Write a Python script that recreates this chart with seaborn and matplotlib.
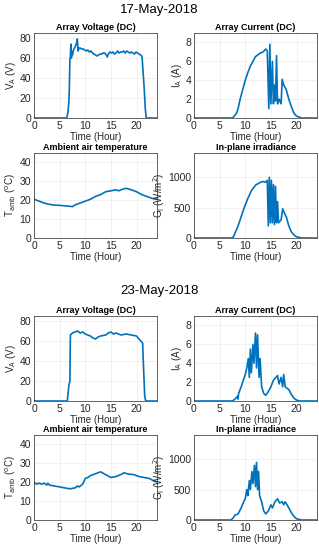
import matplotlib
matplotlib.use("Agg")
import matplotlib.pyplot as plt
import seaborn as sns
import pandas as pd

sns.set_theme(style="whitegrid")
plt.rcParams['font.family'] = ['Liberation Sans', 'DejaVu Sans']

BLUE = "#0072BD"

# ---------------- 17-May-2018 ----------------
v17_t = [0, 6.4, 6.6, 6.8, 6.9, 7.0, 7.1, 7.2, 7.3, 7.4, 7.5, 7.7, 7.9, 8.1, 8.3, 8.45, 8.6, 8.8, 9.0,
         9.3, 9.6, 9.9, 10.2, 10.5, 10.8, 11.1, 11.4, 11.7, 12.0, 12.3, 12.6, 12.9, 13.2, 13.5, 13.8,
         14.1, 14.3, 14.5, 14.8, 15.1, 15.4, 15.7, 16.0, 16.3, 16.6, 16.9, 17.2, 17.5, 17.8, 18.1, 18.4,
         18.7, 19.0, 19.3, 19.6, 19.9, 20.2, 20.5, 20.8, 21.0, 21.1, 21.3, 21.5, 21.7, 21.9, 24]
v17_v = [0, 0, 5, 15, 30, 58, 62, 74, 60, 66, 63, 68, 70, 72, 75, 79, 67, 70, 70,
         69, 69, 68, 67, 68, 66, 67, 65, 64, 63, 62, 63, 64, 64, 65, 65,
         63, 61, 64, 66, 65, 66, 64, 65, 67, 65, 66, 66, 67, 65, 67, 66,
         65, 66, 65, 64, 66, 65, 64, 63, 62, 60, 45, 30, 10, 0, 0]

i17_t = [0, 7.5, 8.0, 8.3, 8.6, 9.0, 9.5, 10.0, 10.5, 11.0, 11.5, 12.0, 12.5, 13.0, 13.5, 14.0, 14.3,
         14.6, 14.8, 15.0, 15.3, 15.5, 15.7, 15.9, 16.1, 16.3, 16.6, 17.0, 17.2, 17.5, 18.0, 18.5, 19.0,
         19.5, 20.0, 21.0, 24]
i17_v = [0, 0, 0.3, 0.5, 1.0, 2.0, 3.0, 4.0, 4.8, 5.5, 6.0, 6.5, 6.7, 6.9, 7.0, 7.3, 7.1,
         1.0, 7.8, 1.5, 6.0, 1.5, 3.5, 1.8, 6.6, 1.5, 2.0, 1.5, 4.1, 3.5, 3.0, 2.0, 1.2,
         0.5, 0.2, 0, 0]

t17_t = [0, 1, 2, 3, 4, 5, 6, 7, 7.5, 8, 9, 10, 11, 12, 13, 14, 15, 16, 16.5, 17.5, 18, 19, 20, 21, 22, 23, 24]
t17_v = [20.5, 19.5, 18.5, 17.8, 17.4, 17.3, 17.0, 16.8, 16.6, 17.5, 18.5, 19.5, 20.5, 22.0, 23.0, 24.5,
         25.0, 25.5, 25.0, 26.0, 26.3, 25.5, 24.5, 23.0, 22.0, 21.0, 20.5]

g17_t = [0, 7.3, 7.7, 8.0, 8.6, 9.2, 9.8, 10.5, 11.2, 12.0, 13.0, 13.5, 14.0, 14.3, 14.5, 14.7, 14.9,
         15.1, 15.3, 15.5, 15.7, 15.9, 16.1, 16.3, 16.5, 17.0, 17.3, 17.7, 18.0, 18.5, 19.0, 19.5, 20.0, 21.0, 24]
g17_v = [0, 0, 20, 80, 200, 350, 500, 650, 780, 870, 920, 930, 920, 950, 200, 1000, 250,
         950, 250, 880, 220, 850, 250, 600, 250, 300, 480, 400, 350, 200, 100, 50, 20, 0, 0]

# ---------------- 23-May-2018 ----------------
v23_t = [0, 6.5, 6.8, 7.0, 7.1, 7.5, 8.0, 8.5, 9.0, 9.5, 10.0, 10.5, 11.0, 11.5, 12.0, 12.5, 13.0,
         14.0, 14.5, 15.0, 15.5, 16.0, 17.0, 18.0, 19.0, 20.0, 20.5, 21.0, 21.2, 21.4, 21.6, 21.8, 24]
v23_v = [0, 0, 15, 20, 66, 68, 69, 70, 68, 69, 67, 66, 65, 63, 62, 64, 65,
         66, 68, 69, 67, 68, 66, 67, 66, 65, 62, 59, 58, 30, 5, 0, 0]

i23_t = [0, 7.5, 8.0, 8.5, 8.6, 8.7, 9.2, 9.5, 10.0, 10.3, 10.6, 10.8, 11.0, 11.2, 11.5, 11.7, 12.0,
         12.2, 12.4, 12.7, 12.9, 13.2, 13.6, 14.0, 14.4, 15.0, 15.5, 16.0, 16.3, 16.6, 17.0, 17.3, 17.5,
         17.8, 18.5, 19.0, 19.5, 20.0, 20.5, 24]
i23_v = [0, 0, 0.2, 0.5, 0.2, 0.8, 1.5, 2.0, 2.8, 3.5, 4.5, 2.5, 5.5, 3.0, 6.0, 4.0, 7.2,
         3.5, 7.0, 2.5, 4.5, 1.5, 0.8, 0.6, 0.9, 1.5, 2.2, 2.5, 2.7, 1.8, 2.5, 1.5, 2.8,
         1.5, 1.2, 0.7, 0.3, 0.1, 0, 0]

t23_t = [0, 0.5, 1, 1.5, 2, 2.5, 2.7, 3, 4, 5, 6, 7, 8, 8.5, 8.8, 9.5, 10, 10.5, 11, 12, 13, 14, 15,
         16, 17.3, 17.5, 18.5, 19.5, 20.5, 21.5, 22.5, 23.5, 24]
t23_v = [20.0, 19.0, 19.5, 19.0, 19.5, 18.5, 19.5, 18.5, 18.0, 17.5, 17.0, 16.5, 17.0, 18.0, 17.5, 19.0,
         22.0, 22.5, 23.5, 24.5, 25.5, 24.0, 22.5, 23.0, 24.5, 25.0, 24.3, 24.0, 23.0, 22.5, 22.0, 20.5, 20.2]

g23_t = [0, 7.2, 7.6, 8.0, 8.6, 9.2, 9.7, 10.0, 10.3, 10.5, 10.8, 11.0, 11.3, 11.5, 11.8, 12.0, 12.2,
         12.4, 12.6, 12.8, 13.2, 13.6, 14.0, 14.5, 15.0, 15.3, 15.8, 16.3, 16.7, 17.2, 17.5, 17.8, 18.5,
         19.0, 19.5, 20.0, 21.0, 24]
g23_v = [0, 0, 30, 80, 100, 200, 300, 350, 500, 400, 650, 500, 800, 600, 900, 550, 950,
         500, 800, 400, 300, 150, 100, 150, 250, 200, 300, 350, 280, 300, 250, 300, 200,
         120, 60, 20, 0, 0]

panels = [
    (v17_t, v17_v, "Array Voltage (DC)", r"V$_{\mathrm{A}}$ (V)", 85, [0, 20, 40, 60, 80]),
    (i17_t, i17_v, "Array Current (DC)", r"I$_{\mathrm{A}}$ (A)", 9, [0, 2, 4, 6, 8]),
    (t17_t, t17_v, "Ambient air temperature", r"T$_{\mathrm{amb}}$ ($^{\mathrm{o}}$C)", 45, [0, 10, 20, 30, 40]),
    (g17_t, g17_v, "In-plane irradiance", r"G$_{\mathrm{I}}$ (W/m$^{\mathrm{2}}$)", 1400, [0, 500, 1000]),
    (v23_t, v23_v, "Array Voltage (DC)", r"V$_{\mathrm{A}}$ (V)", 85, [0, 20, 40, 60, 80]),
    (i23_t, i23_v, "Array Current (DC)", r"I$_{\mathrm{A}}$ (A)", 9, [0, 2, 4, 6, 8]),
    (t23_t, t23_v, "Ambient air temperature", r"T$_{\mathrm{amb}}$ ($^{\mathrm{o}}$C)", 45, [0, 10, 20, 30, 40]),
    (g23_t, g23_v, "In-plane irradiance", r"G$_{\mathrm{I}}$ (W/m$^{\mathrm{2}}$)", 1400, [0, 500, 1000]),
]

W, H = 319, 550
fig = plt.figure(figsize=(W / 100, H / 100), dpi=100)
fig.patch.set_facecolor("white")

lefts = [34, 194]
width = 123
tops = [33, 153, 316, 435]
height = 85

for k, (t, v, title, ylabel, ymax, yt) in enumerate(panels):
    row, col = divmod(k, 2)
    l = lefts[col]
    top = tops[row]
    ax = fig.add_axes([l / W, 1 - (top + height) / H, width / W, height / H])
    df = pd.DataFrame({"t": t, "v": v})
    sns.lineplot(data=df, x="t", y="v", ax=ax, color=BLUE, linewidth=1.2,
                 estimator=None, sort=False)
    ax.set_xlim(0, 24)
    ax.set_ylim(0, ymax)
    ax.set_xticks([0, 5, 10, 15, 20])
    ax.set_yticks(yt)
    ax.set_title(title, fontsize=6.5, fontweight="bold", pad=2, color="black")
    ax.set_xlabel("Time (Hour)", fontsize=7, labelpad=1, color="#262626")
    ax.set_ylabel(ylabel, fontsize=7, labelpad=1, color="#262626")
    ax.tick_params(axis="both", labelsize=7.5, colors="#262626", direction="in", length=2, pad=2)
    ax.grid(True, color="#ebebeb", linewidth=0.5)
    ax.set_facecolor("white")
    for s in ax.spines.values():
        s.set_color("#262626")
        s.set_linewidth(0.5)
        s.set_visible(True)

fig.text(0.5, 1 - 10 / H, "17-May-2018", ha="center", va="center", fontsize=9.5, color="black")
fig.text(0.5, 1 - 291 / H, "23-May-2018", ha="center", va="center", fontsize=9.5, color="black")

fig.savefig("out.png", dpi=100, facecolor="white")
